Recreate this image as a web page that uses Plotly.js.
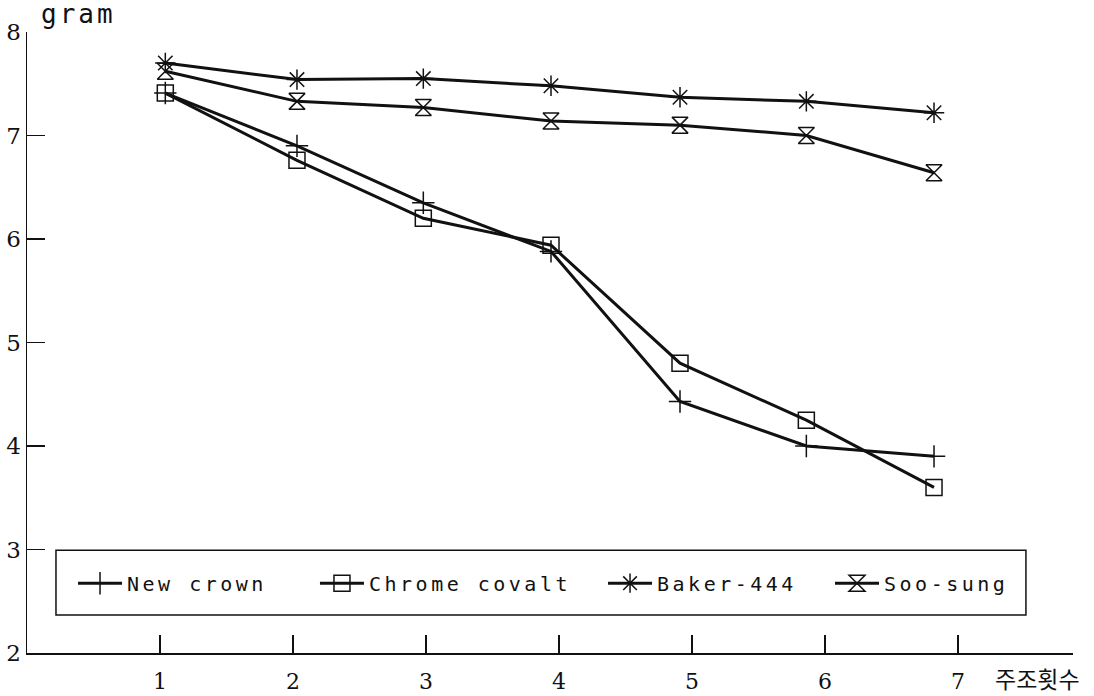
<!DOCTYPE html>
<html>
<head>
<meta charset="utf-8">
<script src="https://cdn.plot.ly/plotly-3.0.1.min.js"></script>
<style>
  html, body { margin: 0; padding: 0; background: #fff; }
  #chart { width: 1094px; height: 696px; }
  #chart svg .infolayer g { clip-path: none !important; }
</style>
</head>
<body>
<div id="chart"></div>
<script>
// Washing count (x position of each measurement as drawn)
const sessions = [1.04, 2.03, 2.98, 3.94, 4.91, 5.86, 6.82];
// Weight in grams for each variety
const newCrown     = [7.41, 6.90, 6.35, 5.88, 4.43, 4.00, 3.90];
const chromeCovalt = [7.41, 6.76, 6.20, 5.94, 4.80, 4.25, 3.60];
const baker444     = [7.70, 7.54, 7.55, 7.48, 7.37, 7.33, 7.22];
const sooSung      = [7.62, 7.33, 7.27, 7.14, 7.10, 7.00, 6.64];
const seriesNames  = ['New crown', 'Chrome covalt', 'Baker-444', 'Soo-sung'];
const xTickVals = [1, 2, 3, 4, 5, 6, 7];
const yTickVals = [2, 3, 4, 5, 6, 7, 8];

const ink = '#111';
const symbols = ['cross-thin-open', 'square-open', 'asterisk-open', 'hourglass-open'];
const sizes = [16, 16, 17, 16];
const values = [newCrown, chromeCovalt, baker444, sooSung];
const legendIds = ['legend', 'legend2', 'legend3', 'legend4'];

const traces = values.map((ys, i) => ({
  type: 'scatter',
  mode: 'lines+markers',
  name: seriesNames[i],
  x: sessions,
  y: ys,
  legend: legendIds[i],
  line: { color: ink, width: 3 },
  marker: { symbol: symbols[i], size: sizes[i], color: ink, line: { color: ink, width: 1.5 } }
}));

const legendX = [0.044, 0.2753, 0.5507, 0.7677];
function mkLegend(x) {
  return {
    orientation: 'h', x: x, y: 0.1124, xanchor: 'left', yanchor: 'middle',
    bgcolor: 'rgba(0,0,0,0)', borderwidth: 0, itemwidth: 44,
    font: { family: 'DejaVu Sans Mono', size: 20, color: ink }
  };
}

const layout = {
  width: 1094, height: 696,
  margin: { l: 27, r: 21, t: 32, b: 43 },
  paper_bgcolor: '#fff', plot_bgcolor: '#fff',
  showlegend: true,
  legend: mkLegend(legendX[0]),
  legend2: mkLegend(legendX[1]),
  legend3: mkLegend(legendX[2]),
  legend4: mkLegend(legendX[3]),
  xaxis: {
    range: [0, 7.865], tickvals: xTickVals, ticktext: xTickVals.map(String),
    ticks: 'inside', ticklen: 18, tickwidth: 1.5, tickcolor: ink,
    showline: true, linecolor: ink, linewidth: 1.5,
    showgrid: false, zeroline: false, ticklabelstandoff: 8,
    tickfont: { family: 'DejaVu Serif', size: 22, color: ink }
  },
  yaxis: {
    range: [2, 8], tickvals: yTickVals, ticktext: yTickVals.map(String),
    ticks: 'inside', ticklen: 18, tickwidth: 1.5, tickcolor: ink,
    showline: true, linecolor: ink, linewidth: 1.5,
    showgrid: false, zeroline: false,
    tickfont: { family: 'DejaVu Serif', size: 23, color: ink }
  },
  shapes: [{
    type: 'rect', xref: 'paper', yref: 'paper',
    x0: 0.0277, x1: 0.955, y0: 0.061, y1: 0.1653,
    line: { color: ink, width: 1.5 }, fillcolor: 'rgba(0,0,0,0)'
  }],
  annotations: [
    { text: 'gram', xref: 'paper', yref: 'paper', x: 0.0497, y: 1.029,
      xanchor: 'center', yanchor: 'middle', showarrow: false,
      font: { family: 'DejaVu Sans Mono', size: 26, color: ink } },
    { text: '주조횟수', xref: 'paper', yref: 'paper', x: 0.9656, y: -0.040,
      xanchor: 'center', yanchor: 'middle', showarrow: false,
      font: { family: 'Noto Sans CJK KR', size: 23, color: ink } }
  ]
};

function spaceText() {
  document.querySelectorAll('#chart svg text').forEach(n => {
    const t = n.textContent;
    if (seriesNames.indexOf(t) >= 0) n.style.setProperty('letter-spacing', '3.5px', 'important');
    if (t === 'gram') n.style.setProperty('letter-spacing', '3px', 'important');
  });
}

Plotly.newPlot('chart', traces, layout, { staticPlot: true, displayModeBar: false }).then(() => {
  spaceText();
});
</script>
</body>
</html>
